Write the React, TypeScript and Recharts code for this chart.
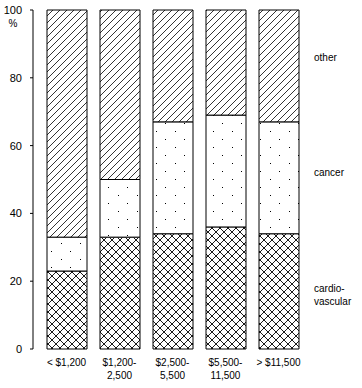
import { Bar, BarChart, LabelList, Label, XAxis, YAxis } from 'recharts';

const categories = ['< $1,200', '$1,200-\n2,500', '$2,500-\n5,500', '$5,500-\n11,500', '> $11,500'];
const cardio = [23, 33, 34, 36, 34];
const cancer = [10, 17, 33, 33, 33];
const other = [67, 50, 33, 31, 33];
const yTicks = [0, 20, 40, 60, 80, 100];
const seriesNames = ['cardio-\nvascular', 'cancer', 'other'];

const data = categories.map((c, i) => ({
  name: c,
  cardio: cardio[i],
  cancer: cancer[i],
  other: other[i],
}));

const font = '"Liberation Sans", Arial, sans-serif';

function XTick({ x, y, payload }: any) {
  const lines = String(payload.value).split('\n');
  return (
    <text x={x} y={y} textAnchor='middle' fontSize={10} fontFamily={font} fill='#000'>
      {lines.map((l, i) => (
        <tspan key={i} x={x} dy={i === 0 ? 17 : 13}>
          {l}
        </tspan>
      ))}
    </text>
  );
}

// series name next to the last bar
function sideLabel(name: string, dy: number) {
  return (props: any) => {
    const { x, y, width, height, index } = props;
    if (index !== categories.length - 1) return null;
    const lines = name.split('\n');
    const cy = Number(y) + Number(height) / 2 + dy;
    return (
      <text x={Number(x) + Number(width) + 15} y={cy} fontSize={10} fontFamily={font} fill='#000'>
        {lines.map((l, i) => (
          <tspan key={i} x={Number(x) + Number(width) + 15} dy={i === 0 ? 3.5 - (lines.length - 1) * 6.5 : 13}>
            {l}
          </tspan>
        ))}
      </text>
    );
  };
}

export default function App() {
  return (
    <div style={{ position: 'absolute', left: 0, top: 0, background: '#fff' }}>
      <BarChart
        width={362}
        height={388}
        data={data}
        margin={{ top: 10, right: 57, left: 0, bottom: 0 }}
        barSize={40}
      >
        <defs>
          <pattern id='hatch' width={7} height={7} patternUnits='userSpaceOnUse'>
            <rect width={7} height={7} fill='#fff' />
            <path d='M0,7 L7,0 M-1,1 L1,-1 M6,8 L8,6' stroke='#000' strokeWidth={0.8} />
          </pattern>
          <pattern id='cross' width={8} height={8} patternUnits='userSpaceOnUse'>
            <rect width={8} height={8} fill='#fff' />
            <path d='M0,8 L8,0 M-1,1 L1,-1 M7,9 L9,7 M0,0 L8,8 M-1,7 L1,9 M7,-1 L9,1' stroke='#000' strokeWidth={0.9} />
          </pattern>
          <pattern id='dots' width={19} height={16} patternUnits='userSpaceOnUse'>
            <rect width={19} height={16} fill='#fff' />
            <rect x={4} y={3} width={1} height={1} fill='#000' />
            <rect x={13} y={11} width={1} height={1} fill='#000' />
          </pattern>
        </defs>
        <XAxis
          dataKey='name'
          axisLine={false}
          tickLine={false}
          tickSize={0}
          tickMargin={0}
          height={39}
          padding={{ left: 7, right: 0 }}
          interval={0}
          tick={<XTick />}
        />
        <YAxis
          domain={[0, 100]}
          ticks={yTicks}
          width={33}
          tickSize={3}
          tickMargin={8}
          axisLine={{ stroke: '#000' }}
          tickLine={{ stroke: '#000' }}
          tick={{ fill: '#000', fontSize: 11, fontFamily: font }}
        >
          <Label
            content={() => (
              <text x={13} y={27} textAnchor='middle' fontSize={10} fontFamily={font} fill='#000'>
                %
              </text>
            )}
          />
        </YAxis>
        <Bar dataKey='cardio' stackId='a' fill='url(#cross)' stroke='#000' strokeWidth={1} isAnimationActive={false}>
          <LabelList content={sideLabel(seriesNames[0], 4)} />
        </Bar>
        <Bar dataKey='cancer' stackId='a' fill='url(#dots)' stroke='#000' strokeWidth={1} isAnimationActive={false}>
          <LabelList content={sideLabel(seriesNames[1], -5)} />
        </Bar>
        <Bar dataKey='other' stackId='a' fill='url(#hatch)' stroke='#000' strokeWidth={1} isAnimationActive={false}>
          <LabelList content={sideLabel(seriesNames[2], -8)} />
        </Bar>
      </BarChart>
    </div>
  );
}
